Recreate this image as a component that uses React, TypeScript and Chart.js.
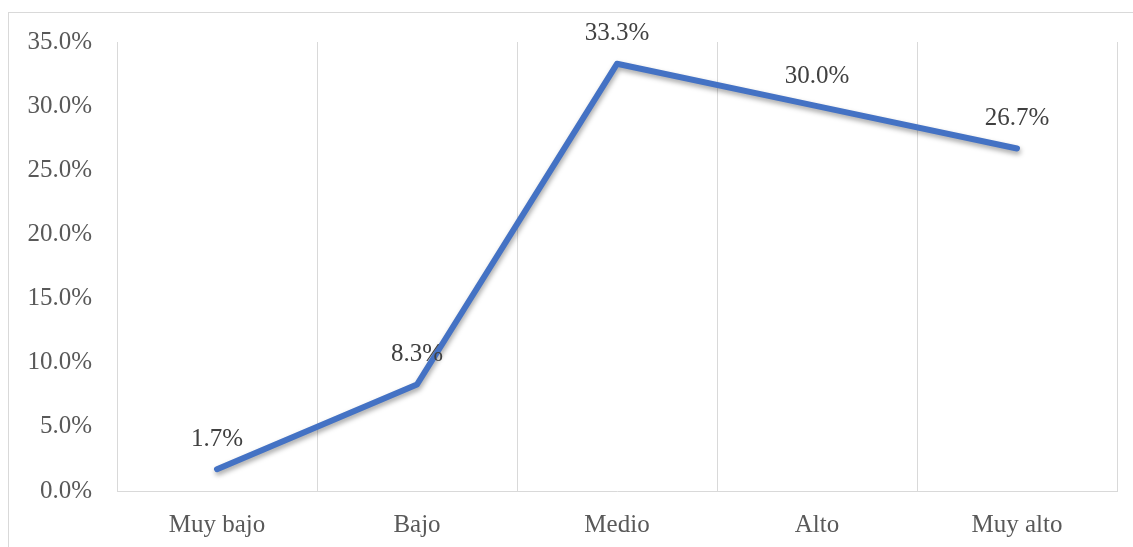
import React, { useEffect, useRef } from "react";
import { Chart, registerables } from "chart.js";

Chart.register(...registerables);

const categories = ["Muy bajo", "Bajo", "Medio", "Alto", "Muy alto"];
const values = [1.7, 8.3, 33.3, 30.0, 26.7];
const yMin = 0;
const yMax = 35;
const yStep = 5;

const FONT = "'Liberation Serif', 'Times New Roman', serif";

const labelPlugin = {
  id: "valueLabels",
  afterDatasetsDraw(chart: any) {
    const ctx = chart.ctx;
    const meta = chart.getDatasetMeta(0);
    ctx.save();
    ctx.font = `25px ${FONT}`;
    ctx.fillStyle = "#404040";
    ctx.textAlign = "center";
    ctx.textBaseline = "middle";
    meta.data.forEach((pt: any, i: number) => {
      ctx.fillText(values[i].toFixed(1) + "%", pt.x, pt.y - 30);
    });
    ctx.restore();
  },
};

const shadowPlugin = {
  id: "lineShadow",
  beforeDatasetDraw(chart: any) {
    const ctx = chart.ctx;
    ctx.save();
    ctx.shadowColor = "rgba(0,0,0,0.35)";
    ctx.shadowBlur = 5;
    ctx.shadowOffsetX = 1;
    ctx.shadowOffsetY = 3;
  },
  afterDatasetDraw(chart: any) {
    chart.ctx.restore();
  },
};

export default function App() {
  const ref = useRef<HTMLCanvasElement | null>(null);
  useEffect(() => {
    if (!ref.current) return;
    const chart = new Chart(ref.current, {
      type: "line",
      data: {
        labels: categories,
        datasets: [
          {
            data: values,
            borderColor: "#4472C4",
            borderWidth: 6,
            borderCapStyle: "round",
            borderJoinStyle: "round",
            pointRadius: 0,
            fill: false,
            tension: 0,
          },
        ],
      },
      options: {
        animation: false,
        responsive: false,
        maintainAspectRatio: false,
        layout: { padding: { left: 0, right: 16, top: 42, bottom: 0 } },
        plugins: {
          legend: { display: false },
          tooltip: { enabled: false },
        },
        scales: {
          x: {
            offset: true,
            grid: { display: true, offset: true, color: "#d9d9d9", lineWidth: 1, drawTicks: false },
            border: { display: true, color: "#d9d9d9", width: 1 },
            ticks: { color: "#595959", font: { family: FONT, size: 25 }, padding: 19, maxRotation: 0 },
            afterFit: (s: any) => { s.height = 56; },
          },
          y: {
            min: yMin,
            max: yMax,
            grid: { display: false, drawTicks: false },
            border: { display: false },
            ticks: {
              stepSize: yStep,
              color: "#595959",
              font: { family: FONT, size: 25 },
              padding: 25,
              callback: (v: any) => Number(v).toFixed(1) + "%",
            },
            afterFit: (s: any) => { s.width = 117; },
          },
        },
      },
      plugins: [shadowPlugin, labelPlugin],
    } as any);
    return () => chart.destroy();
  }, []);
  return (
    <div>
      <div
        style={{
          position: "fixed",
          left: 8,
          top: 12,
          width: 1200,
          height: 600,
          border: "1px solid #d9d9d9",
          background: "#fff",
        }}
      />
      <div style={{ position: "fixed", left: 0, top: 0, width: 1133, height: 547 }}>
        <canvas ref={ref} width={1133} height={547} style={{ width: 1133, height: 547 }} />
      </div>
    </div>
  );
}
